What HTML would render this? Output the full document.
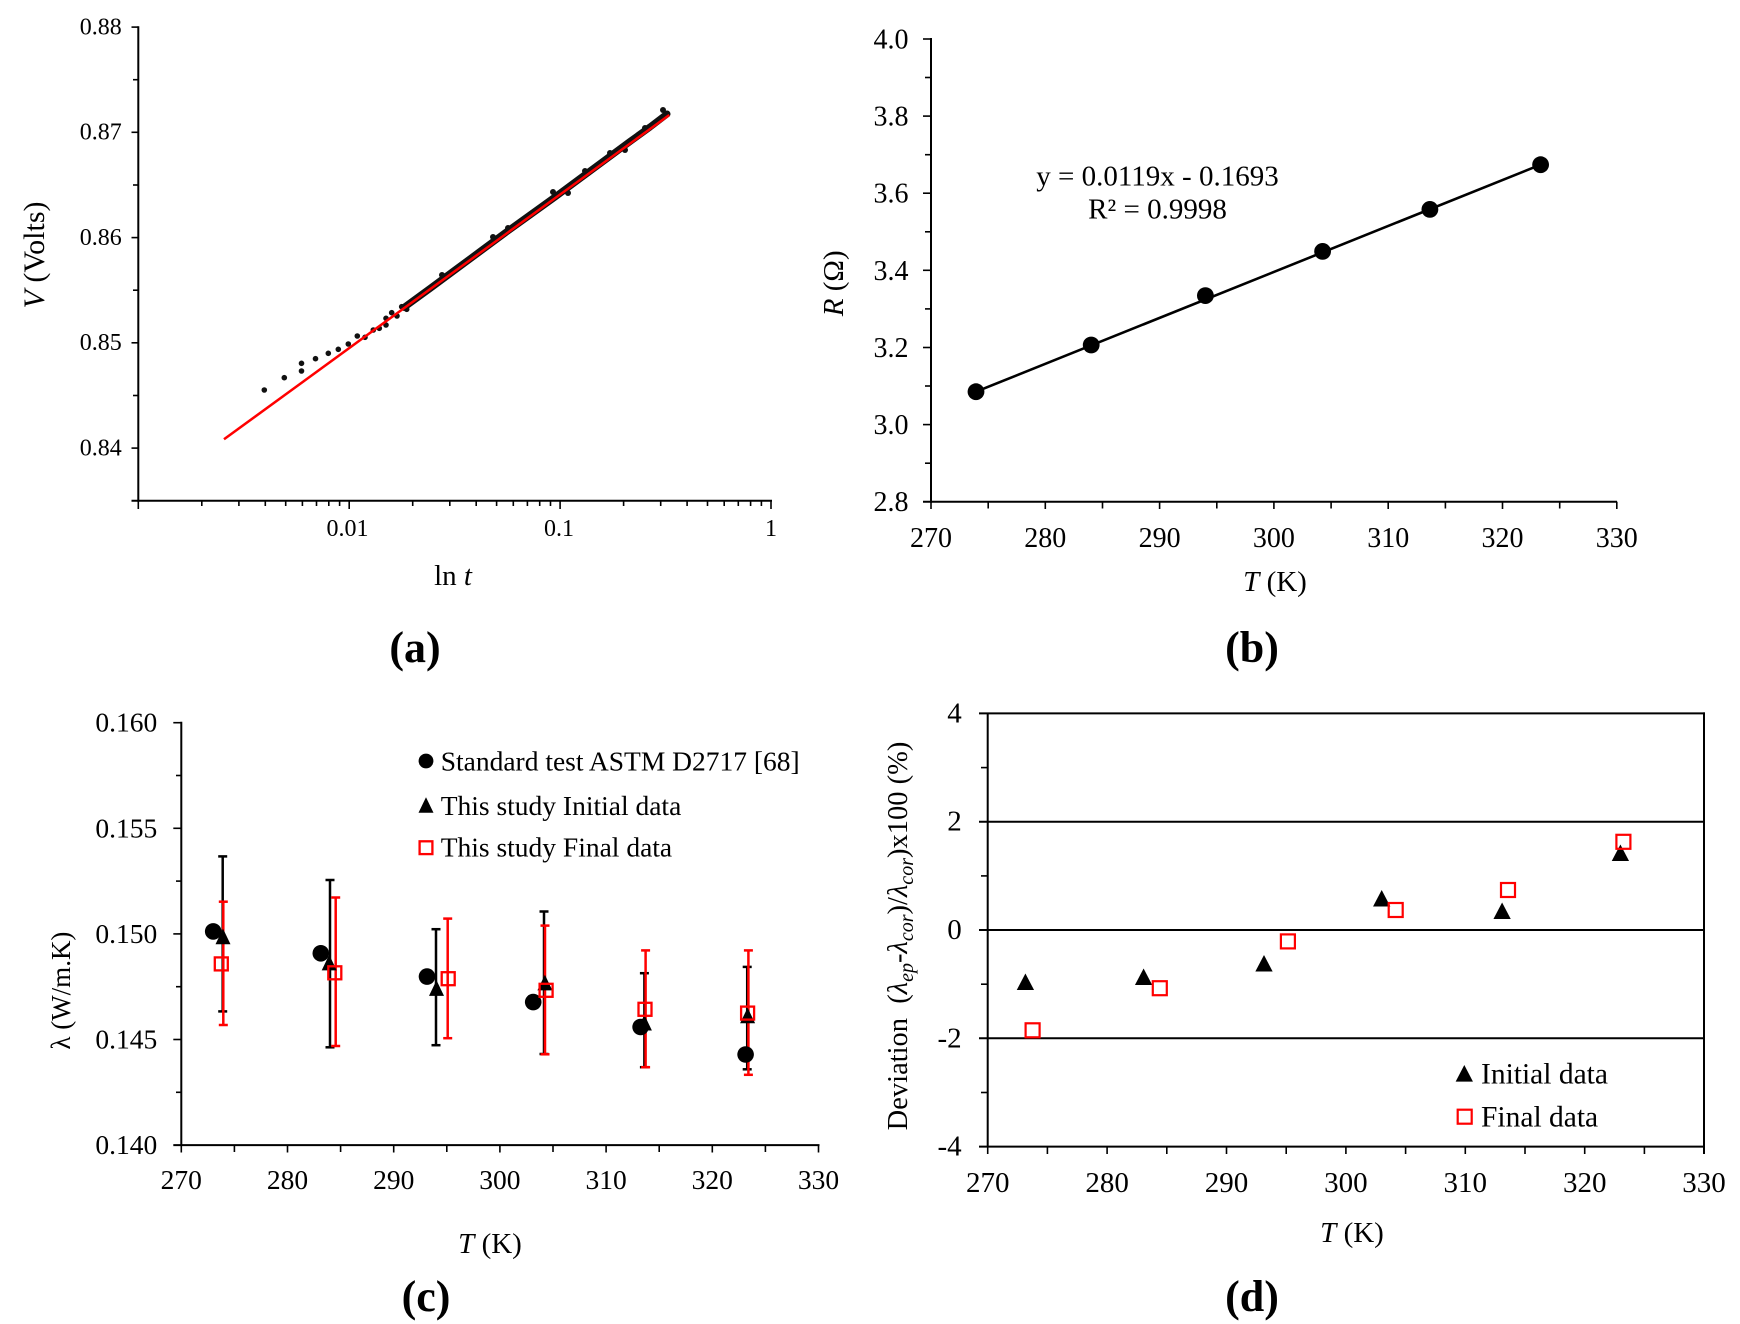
<!DOCTYPE html>
<html><head><meta charset="utf-8">
<style>
html,body{margin:0;padding:0;background:#fff}
svg{display:block}
text{font-family:"Liberation Serif","DejaVu Serif",serif;fill:#000}
</style></head>
<body>
<svg xmlns="http://www.w3.org/2000/svg" width="1740" height="1324" viewBox="0 0 1740 1324">
<rect width="1740" height="1324" fill="#fff"/>

<!-- ================= (a) ================= -->
<g stroke="#000" stroke-width="2" fill="none">
  <line x1="138.3" y1="26.3" x2="138.3" y2="501.7"/>
  <line x1="131.5" y1="500.7" x2="772" y2="500.7"/>
</g>
<g stroke="#000" stroke-width="1.6">
  <line x1="131.5" y1="27.1" x2="138.3" y2="27.1"/>
  <line x1="131.5" y1="132.3" x2="138.3" y2="132.3"/>
  <line x1="131.5" y1="237.6" x2="138.3" y2="237.6"/>
  <line x1="131.5" y1="342.8" x2="138.3" y2="342.8"/>
  <line x1="131.5" y1="448.1" x2="138.3" y2="448.1"/>
  <line x1="133" y1="79.7" x2="138.3" y2="79.7"/>
  <line x1="133" y1="185" x2="138.3" y2="185"/>
  <line x1="133" y1="290.2" x2="138.3" y2="290.2"/>
  <line x1="133" y1="395.5" x2="138.3" y2="395.5"/>
  <!-- x major -->
  <line x1="138.3" y1="500.7" x2="138.3" y2="509"/>
  <line x1="349.2" y1="500.7" x2="349.2" y2="509"/>
  <line x1="560.1" y1="500.7" x2="560.1" y2="509"/>
  <line x1="771" y1="500.7" x2="771" y2="509"/>
  <!-- x minor -->
  <line x1="201.8" y1="500.7" x2="201.8" y2="506"/><line x1="238.9" y1="500.7" x2="238.9" y2="506"/>
  <line x1="265.3" y1="500.7" x2="265.3" y2="506"/><line x1="285.7" y1="500.7" x2="285.7" y2="506"/>
  <line x1="302.4" y1="500.7" x2="302.4" y2="506"/><line x1="316.5" y1="500.7" x2="316.5" y2="506"/>
  <line x1="328.8" y1="500.7" x2="328.8" y2="506"/><line x1="339.6" y1="500.7" x2="339.6" y2="506"/>
  <line x1="412.7" y1="500.7" x2="412.7" y2="506"/><line x1="449.8" y1="500.7" x2="449.8" y2="506"/>
  <line x1="476.2" y1="500.7" x2="476.2" y2="506"/><line x1="496.6" y1="500.7" x2="496.6" y2="506"/>
  <line x1="513.3" y1="500.7" x2="513.3" y2="506"/><line x1="527.4" y1="500.7" x2="527.4" y2="506"/>
  <line x1="539.7" y1="500.7" x2="539.7" y2="506"/><line x1="550.5" y1="500.7" x2="550.5" y2="506"/>
  <line x1="623.6" y1="500.7" x2="623.6" y2="506"/><line x1="660.7" y1="500.7" x2="660.7" y2="506"/>
  <line x1="687.1" y1="500.7" x2="687.1" y2="506"/><line x1="707.5" y1="500.7" x2="707.5" y2="506"/>
  <line x1="724.2" y1="500.7" x2="724.2" y2="506"/><line x1="738.3" y1="500.7" x2="738.3" y2="506"/>
  <line x1="750.6" y1="500.7" x2="750.6" y2="506"/><line x1="761.4" y1="500.7" x2="761.4" y2="506"/>
</g>
<g font-size="24" text-anchor="end">
  <text x="121.7" y="34.5">0.88</text>
  <text x="121.7" y="139.7">0.87</text>
  <text x="121.7" y="245">0.86</text>
  <text x="121.7" y="350.2">0.85</text>
  <text x="121.7" y="455.5">0.84</text>
</g>
<g font-size="24" text-anchor="middle">
  <text x="347.5" y="536">0.01</text>
  <text x="559" y="536">0.1</text>
  <text x="771" y="536">1</text>
</g>
<text x="453" y="585" font-size="29" text-anchor="middle">ln <tspan font-style="italic">t</tspan></text>
<text transform="translate(44,255) rotate(-90)" font-size="30" text-anchor="middle"><tspan font-style="italic">V</tspan> (Volts)</text>
<!-- data band -->
<polyline points="404,307.4 430,288.5 455,270 480,251.5 505,233 530,215 555,197 580,178.5 605,160 630,141.5 650,127 667,114" fill="none" stroke="#111" stroke-width="7" stroke-linecap="round" stroke-linejoin="round"/>
<g fill="#111">
  <circle cx="264.3" cy="390" r="2.8"/><circle cx="284.3" cy="377.7" r="2.8"/>
  <circle cx="301.5" cy="363.3" r="2.8"/><circle cx="301.5" cy="371" r="2.8"/>
  <circle cx="315.5" cy="358.7" r="2.8"/><circle cx="328.3" cy="353.3" r="2.8"/>
  <circle cx="338.3" cy="349.3" r="2.8"/><circle cx="348.3" cy="344" r="2.8"/>
  <circle cx="357.3" cy="336" r="2.8"/><circle cx="365" cy="337.3" r="2.8"/>
  <circle cx="373.3" cy="330" r="2.8"/><circle cx="379.3" cy="328.3" r="2.8"/>
  <circle cx="386" cy="325" r="2.8"/><circle cx="386" cy="318.3" r="2.8"/>
  <circle cx="391.7" cy="312.7" r="2.8"/><circle cx="397" cy="316" r="2.8"/>
  <circle cx="401.7" cy="306.7" r="2.8"/><circle cx="406.7" cy="309.3" r="2.8"/>
  <circle cx="442" cy="275" r="3"/><circle cx="493" cy="237" r="3"/>
  <circle cx="508" cy="228" r="3"/><circle cx="553" cy="192" r="3"/>
  <circle cx="585" cy="171" r="3"/><circle cx="610" cy="153" r="3"/>
  <circle cx="645" cy="128" r="3"/><circle cx="663" cy="110" r="3"/>
  <circle cx="625" cy="150" r="3"/><circle cx="568" cy="193" r="3"/>
</g>
<line x1="224" y1="439.3" x2="669.3" y2="115" stroke="#ff0000" stroke-width="2.5"/>
<text x="415" y="662" font-size="44" font-weight="bold" text-anchor="middle">(a)</text>

<!-- ================= (b) ================= -->
<g stroke="#000" stroke-width="2" fill="none">
  <line x1="931" y1="38" x2="931" y2="502.7"/>
  <line x1="923" y1="501.7" x2="1617" y2="501.7"/>
</g>
<g stroke="#000" stroke-width="1.6">
  <line x1="923" y1="39" x2="931" y2="39"/><line x1="923" y1="116.1" x2="931" y2="116.1"/>
  <line x1="923" y1="193.2" x2="931" y2="193.2"/><line x1="923" y1="270.3" x2="931" y2="270.3"/>
  <line x1="923" y1="347.5" x2="931" y2="347.5"/><line x1="923" y1="424.6" x2="931" y2="424.6"/>
  <line x1="925" y1="77.5" x2="931" y2="77.5"/><line x1="925" y1="154.7" x2="931" y2="154.7"/>
  <line x1="925" y1="231.8" x2="931" y2="231.8"/><line x1="925" y1="308.9" x2="931" y2="308.9"/>
  <line x1="925" y1="386" x2="931" y2="386"/><line x1="925" y1="463.2" x2="931" y2="463.2"/>
  <line x1="931" y1="501.7" x2="931" y2="509"/><line x1="988.2" y1="501.7" x2="988.2" y2="508.5"/>
  <line x1="1045.3" y1="501.7" x2="1045.3" y2="509"/><line x1="1102.5" y1="501.7" x2="1102.5" y2="508.5"/>
  <line x1="1159.6" y1="501.7" x2="1159.6" y2="509"/><line x1="1216.8" y1="501.7" x2="1216.8" y2="508.5"/>
  <line x1="1273.9" y1="501.7" x2="1273.9" y2="509"/><line x1="1331.1" y1="501.7" x2="1331.1" y2="508.5"/>
  <line x1="1388.2" y1="501.7" x2="1388.2" y2="509"/><line x1="1445.4" y1="501.7" x2="1445.4" y2="508.5"/>
  <line x1="1502.5" y1="501.7" x2="1502.5" y2="509"/><line x1="1559.7" y1="501.7" x2="1559.7" y2="508.5"/>
  <line x1="1616.8" y1="501.7" x2="1616.8" y2="509"/>
</g>
<g font-size="28" text-anchor="end">
  <text x="908.5" y="48.5">4.0</text>
  <text x="908.5" y="125.6">3.8</text>
  <text x="908.5" y="202.7">3.6</text>
  <text x="908.5" y="279.8">3.4</text>
  <text x="908.5" y="357">3.2</text>
  <text x="908.5" y="434.1">3.0</text>
  <text x="908.5" y="511.2">2.8</text>
</g>
<g font-size="28" text-anchor="middle">
  <text x="931" y="547">270</text><text x="1045.3" y="547">280</text>
  <text x="1159.6" y="547">290</text><text x="1273.9" y="547">300</text>
  <text x="1388.2" y="547">310</text><text x="1502.5" y="547">320</text>
  <text x="1616.8" y="547">330</text>
</g>
<text x="1275" y="591" font-size="29" text-anchor="middle"><tspan font-style="italic">T</tspan> (K)</text>
<text transform="translate(843,283.3) rotate(-90)" font-size="29" text-anchor="middle"><tspan font-style="italic">R</tspan> (Ω)</text>
<text x="1157.5" y="185.7" font-size="29" text-anchor="middle">y = 0.0119x - 0.1693</text>
<text x="1157.5" y="218.3" font-size="29" text-anchor="middle">R² = 0.9998</text>
<line x1="976" y1="391.7" x2="1540.6" y2="164.7" stroke="#000" stroke-width="2.6"/>
<g fill="#000">
  <circle cx="976" cy="391.7" r="8.4"/><circle cx="1091.2" cy="345" r="8.4"/>
  <circle cx="1205.4" cy="295.6" r="8.4"/><circle cx="1322.6" cy="251.4" r="8.4"/>
  <circle cx="1429.9" cy="209.4" r="8.4"/><circle cx="1540.6" cy="164.7" r="8.4"/>
</g>
<text x="1252" y="662" font-size="44" font-weight="bold" text-anchor="middle">(b)</text>

<!-- ================= (c) ================= -->
<g stroke="#000" stroke-width="2" fill="none">
  <line x1="181.3" y1="721.7" x2="181.3" y2="1146.1"/>
  <line x1="173.3" y1="1145.1" x2="819.5" y2="1145.1"/>
</g>
<g stroke="#000" stroke-width="1.6">
  <line x1="173.3" y1="722.7" x2="181.3" y2="722.7"/><line x1="173.3" y1="828.3" x2="181.3" y2="828.3"/>
  <line x1="173.3" y1="933.9" x2="181.3" y2="933.9"/><line x1="173.3" y1="1039.5" x2="181.3" y2="1039.5"/>
  <line x1="176" y1="775.5" x2="181.3" y2="775.5"/><line x1="176" y1="881.1" x2="181.3" y2="881.1"/>
  <line x1="176" y1="986.7" x2="181.3" y2="986.7"/><line x1="176" y1="1092.3" x2="181.3" y2="1092.3"/>
  <line x1="181.3" y1="1145.1" x2="181.3" y2="1152.5"/><line x1="234.4" y1="1145.1" x2="234.4" y2="1152"/>
  <line x1="287.5" y1="1145.1" x2="287.5" y2="1152.5"/><line x1="340.6" y1="1145.1" x2="340.6" y2="1152"/>
  <line x1="393.7" y1="1145.1" x2="393.7" y2="1152.5"/><line x1="446.8" y1="1145.1" x2="446.8" y2="1152"/>
  <line x1="499.9" y1="1145.1" x2="499.9" y2="1152.5"/><line x1="553" y1="1145.1" x2="553" y2="1152"/>
  <line x1="606.1" y1="1145.1" x2="606.1" y2="1152.5"/><line x1="659.2" y1="1145.1" x2="659.2" y2="1152"/>
  <line x1="712.3" y1="1145.1" x2="712.3" y2="1152.5"/><line x1="765.4" y1="1145.1" x2="765.4" y2="1152"/>
  <line x1="818.5" y1="1145.1" x2="818.5" y2="1152.5"/>
</g>
<g font-size="27.5" text-anchor="end">
  <text x="157.3" y="731.7">0.160</text>
  <text x="157.3" y="837.3">0.155</text>
  <text x="157.3" y="942.9">0.150</text>
  <text x="157.3" y="1048.5">0.145</text>
  <text x="157.3" y="1154.1">0.140</text>
</g>
<g font-size="27.5" text-anchor="middle">
  <text x="181.3" y="1189">270</text><text x="287.5" y="1189">280</text>
  <text x="393.7" y="1189">290</text><text x="499.9" y="1189">300</text>
  <text x="606.1" y="1189">310</text><text x="712.3" y="1189">320</text>
  <text x="818.5" y="1189">330</text>
</g>
<text x="490" y="1253" font-size="29" text-anchor="middle"><tspan font-style="italic">T</tspan> (K)</text>
<text transform="translate(70,990.6) rotate(-90)" font-size="27" text-anchor="middle">λ (W/m.K)</text>
<!-- black error bars -->
<g stroke="#000" stroke-width="2.5">
  <line x1="222.7" y1="856.4" x2="222.7" y2="1011.4"/><line x1="218.2" y1="856.4" x2="227.2" y2="856.4"/><line x1="218.2" y1="1011.4" x2="227.2" y2="1011.4"/>
  <line x1="330" y1="880" x2="330" y2="1047.3"/><line x1="325.5" y1="880" x2="334.5" y2="880"/><line x1="325.5" y1="1047.3" x2="334.5" y2="1047.3"/>
  <line x1="436" y1="929.2" x2="436" y2="1045.2"/><line x1="431.5" y1="929.2" x2="440.5" y2="929.2"/><line x1="431.5" y1="1045.2" x2="440.5" y2="1045.2"/>
  <line x1="544" y1="911.5" x2="544" y2="1054"/><line x1="539.5" y1="911.5" x2="548.5" y2="911.5"/><line x1="539.5" y1="1054" x2="548.5" y2="1054"/>
  <line x1="644.4" y1="973.2" x2="644.4" y2="1067.2"/><line x1="639.9" y1="973.2" x2="648.9" y2="973.2"/><line x1="639.9" y1="1067.2" x2="648.9" y2="1067.2"/>
  <line x1="747.2" y1="966.9" x2="747.2" y2="1069.3"/><line x1="742.7" y1="966.9" x2="751.7" y2="966.9"/><line x1="742.7" y1="1069.3" x2="751.7" y2="1069.3"/>
</g>
<!-- red error bars -->
<g stroke="#ff0000" stroke-width="2.5">
  <line x1="223.3" y1="901.7" x2="223.3" y2="1025"/><line x1="218.8" y1="901.7" x2="227.8" y2="901.7"/><line x1="218.8" y1="1025" x2="227.8" y2="1025"/>
  <line x1="335.7" y1="897.5" x2="335.7" y2="1046"/><line x1="331.2" y1="897.5" x2="340.2" y2="897.5"/><line x1="331.2" y1="1046" x2="340.2" y2="1046"/>
  <line x1="447.7" y1="918.6" x2="447.7" y2="1038.2"/><line x1="443.2" y1="918.6" x2="452.2" y2="918.6"/><line x1="443.2" y1="1038.2" x2="452.2" y2="1038.2"/>
  <line x1="545" y1="925.6" x2="545" y2="1054.3"/><line x1="540.5" y1="925.6" x2="549.5" y2="925.6"/><line x1="540.5" y1="1054.3" x2="549.5" y2="1054.3"/>
  <line x1="645.6" y1="950.4" x2="645.6" y2="1067.2"/><line x1="641.1" y1="950.4" x2="650.1" y2="950.4"/><line x1="641.1" y1="1067.2" x2="650.1" y2="1067.2"/>
  <line x1="748.4" y1="950.4" x2="748.4" y2="1074.8"/><line x1="743.9" y1="950.4" x2="752.9" y2="950.4"/><line x1="743.9" y1="1074.8" x2="752.9" y2="1074.8"/>
</g>
<g fill="#000">
  <circle cx="213.2" cy="931.4" r="8.3"/><circle cx="320.8" cy="953.3" r="8.3"/>
  <circle cx="427" cy="976.6" r="8.3"/><circle cx="533.2" cy="1002.1" r="8.3"/>
  <circle cx="640.6" cy="1027" r="8.3"/><circle cx="745.6" cy="1054.5" r="8.3"/>
  <polygon points="215.5,944.3 230.5,944.3 223,928.6"/>
  <polygon points="321.7,970.4 336.7,970.4 329.2,954.7"/>
  <polygon points="429,995.9 444,995.9 436.5,980.2"/>
  <polygon points="537.4,990.4 552.4,990.4 544.9,974.7"/>
  <polygon points="636.9,1030.5 651.9,1030.5 644.4,1014.8"/>
  <polygon points="740.1,1023.3 755.1,1023.3 747.6,1007.6"/>
</g>
<g fill="none" stroke="#ff0000" stroke-width="2.3">
  <rect x="214.8" y="957.4" width="13" height="13"/>
  <rect x="328.3" y="966.3" width="13" height="13"/>
  <rect x="441.7" y="972.2" width="13" height="13"/>
  <rect x="539.6" y="983.8" width="13" height="13"/>
  <rect x="638.5" y="1002.8" width="13" height="13"/>
  <rect x="741.1" y="1006.6" width="13" height="13"/>
</g>
<!-- legend c -->
<circle cx="426" cy="761" r="7.4" fill="#000"/>
<polygon points="418.5,812.8 433.5,812.8 426,797.2" fill="#000"/>
<rect x="419.6" y="841.3" width="12.8" height="12.8" fill="none" stroke="#ff0000" stroke-width="2.3"/>
<g font-size="27.5">
  <text x="440.7" y="770.7">Standard test ASTM D2717 [68]</text>
  <text x="440.7" y="815">This study Initial data</text>
  <text x="440.7" y="856.7">This study Final data</text>
</g>
<text x="426" y="1311" font-size="44" font-weight="bold" text-anchor="middle">(c)</text>

<!-- ================= (d) ================= -->
<g stroke="#000" stroke-width="2" fill="none">
  <line x1="987.7" y1="713.4" x2="987.7" y2="1146.6"/>
  <line x1="1704" y1="712.4" x2="1704" y2="1154"/>
  <line x1="979" y1="713.4" x2="1705" y2="713.4"/>
  <line x1="979" y1="821.7" x2="1704" y2="821.7"/>
  <line x1="979" y1="930" x2="1704" y2="930"/>
  <line x1="979" y1="1038.3" x2="1704" y2="1038.3"/>
  <line x1="979" y1="1146.6" x2="1705" y2="1146.6"/>
</g>
<g stroke="#000" stroke-width="1.6">
  <line x1="981" y1="767.6" x2="987.7" y2="767.6"/><line x1="981" y1="875.9" x2="987.7" y2="875.9"/>
  <line x1="981" y1="984.2" x2="987.7" y2="984.2"/><line x1="981" y1="1092.5" x2="987.7" y2="1092.5"/>
  <line x1="987.7" y1="1146.6" x2="987.7" y2="1154"/><line x1="1047.4" y1="1146.6" x2="1047.4" y2="1154"/>
  <line x1="1107.1" y1="1146.6" x2="1107.1" y2="1154"/><line x1="1166.8" y1="1146.6" x2="1166.8" y2="1154"/>
  <line x1="1226.5" y1="1146.6" x2="1226.5" y2="1154"/><line x1="1286.2" y1="1146.6" x2="1286.2" y2="1154"/>
  <line x1="1345.9" y1="1146.6" x2="1345.9" y2="1154"/><line x1="1405.6" y1="1146.6" x2="1405.6" y2="1154"/>
  <line x1="1465.3" y1="1146.6" x2="1465.3" y2="1154"/><line x1="1525" y1="1146.6" x2="1525" y2="1154"/>
  <line x1="1584.7" y1="1146.6" x2="1584.7" y2="1154"/><line x1="1644.4" y1="1146.6" x2="1644.4" y2="1154"/>
</g>
<g font-size="29" text-anchor="end">
  <text x="961.7" y="722.4">4</text>
  <text x="961.7" y="830.7">2</text>
  <text x="961.7" y="939">0</text>
  <text x="961.7" y="1047.3">-2</text>
  <text x="961.7" y="1155.6">-4</text>
</g>
<g font-size="29" text-anchor="middle">
  <text x="987.7" y="1192">270</text><text x="1107.1" y="1192">280</text>
  <text x="1226.5" y="1192">290</text><text x="1345.9" y="1192">300</text>
  <text x="1465.3" y="1192">310</text><text x="1584.7" y="1192">320</text>
  <text x="1704" y="1192">330</text>
</g>
<text x="1352" y="1242" font-size="29" text-anchor="middle"><tspan font-style="italic">T</tspan> (K)</text>
<text transform="translate(907,936) rotate(-90)" font-size="28.5" text-anchor="middle">Deviation&#160; (<tspan font-style="italic">λ</tspan><tspan font-style="italic" font-size="20" dy="6">ep</tspan><tspan dy="-6">-</tspan><tspan font-style="italic">λ</tspan><tspan font-style="italic" font-size="20" dy="6">cor</tspan><tspan dy="-6">)/</tspan><tspan font-style="italic">λ</tspan><tspan font-style="italic" font-size="20" dy="6">cor</tspan><tspan dy="-6">)x100 (%)</tspan></text>
<g fill="#000">
  <polygon points="1016.75,990.05 1034.05,990.05 1025.4,973.55"/>
  <polygon points="1134.95,985.05 1152.25,985.05 1143.6,968.55"/>
  <polygon points="1255.35,971.55 1272.65,971.55 1264,955.05"/>
  <polygon points="1373.05,906.55 1390.35,906.55 1381.7,890.05"/>
  <polygon points="1493.45,918.95 1510.75,918.95 1502.1,902.45"/>
  <polygon points="1611.75,861.05 1629.05,861.05 1620.4,844.55"/>
</g>
<g fill="none" stroke="#ff0000" stroke-width="2.2">
  <rect x="1025.6" y="1023.3" width="14" height="14"/>
  <rect x="1152.8" y="981.2" width="14" height="14"/>
  <rect x="1280.9" y="934.4" width="14" height="14"/>
  <rect x="1388.7" y="903" width="14" height="14"/>
  <rect x="1501" y="883" width="14" height="14"/>
  <rect x="1616.4" y="834.8" width="14" height="14"/>
</g>
<!-- legend d -->
<polygon points="1455.65,1081.6 1472.95,1081.6 1464.3,1065" fill="#000"/>
<rect x="1457.7" y="1109.7" width="14" height="14" fill="none" stroke="#ff0000" stroke-width="2.2"/>
<g font-size="29.5">
  <text x="1481" y="1083.3">Initial data</text>
  <text x="1481" y="1126.7">Final data</text>
</g>
<text x="1252" y="1311" font-size="44" font-weight="bold" text-anchor="middle">(d)</text>
</svg>
</body></html>
